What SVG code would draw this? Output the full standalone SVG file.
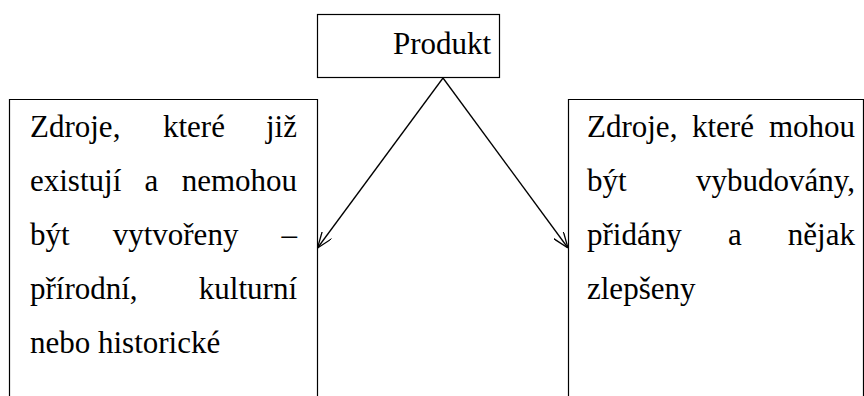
<svg xmlns="http://www.w3.org/2000/svg" width="864" height="396" viewBox="0 0 864 396">
<style>
.box{fill:none;stroke:#000;stroke-width:1.2}
.t{font-family:"Liberation Serif","Times New Roman",serif;font-size:31px;fill:#000}
.e{text-anchor:end}
.conn{stroke:#000;stroke-width:1.3;fill:none}
</style>
<defs>
<marker id="arr" viewBox="0 0 16 12" refX="16" refY="6" markerUnits="userSpaceOnUse" markerWidth="16" markerHeight="12" orient="auto">
<path d="M0,0 L16,6 L0,12" fill="none" stroke="#000" stroke-width="1.3"/>
</marker>
</defs>
<rect width="864" height="396" fill="#fff"/>
<g id="produkt" font-family="Liberation Serif, serif">
<rect class="box" x="317.5" y="14.5" width="182" height="63"/>
<text class="t" x="393" y="54">Produkt</text>
</g>
<g id="left" font-family="Liberation Serif, serif">
<path class="box" d="M9.5,400 V99.5 H317.5 V400"/>
<text class="t" x="30" y="137">Zdroje,</text>
<text class="t" x="163" y="137">které</text>
<text class="t e" x="297" y="137">již</text>
<text class="t" x="30" y="191">existují</text>
<text class="t" x="144.5" y="191">a</text>
<text class="t e" x="297" y="191">nemohou</text>
<text class="t" x="30" y="245">být</text>
<text class="t" x="112.7" y="245">vytvořeny</text>
<text class="t e" x="297" y="245">–</text>
<text class="t" x="30" y="299">přírodní,</text>
<text class="t e" x="297" y="299">kulturní</text>
<text class="t" x="30" y="353">nebo historické</text>
</g>
<g id="right" font-family="Liberation Serif, serif">
<path class="box" d="M568.5,400 V99.5 H863.5 V400"/>
<text class="t" x="587" y="137">Zdroje,</text>
<text class="t" x="692" y="137">které</text>
<text class="t e" x="855" y="137">mohou</text>
<text class="t" x="587" y="191">být</text>
<text class="t e" x="855" y="191">vybudovány,</text>
<text class="t" x="587" y="245">přidány</text>
<text class="t" x="728" y="245">a</text>
<text class="t e" x="855" y="245">nějak</text>
<text class="t" x="587" y="299">zlepšeny</text>
</g>
<g id="connectors">
<path class="conn" d="M443,78 L317.5,248" marker-end="url(#arr)"/>
<path class="conn" d="M443,78 L568,248" marker-end="url(#arr)"/>
</g>
</svg>
